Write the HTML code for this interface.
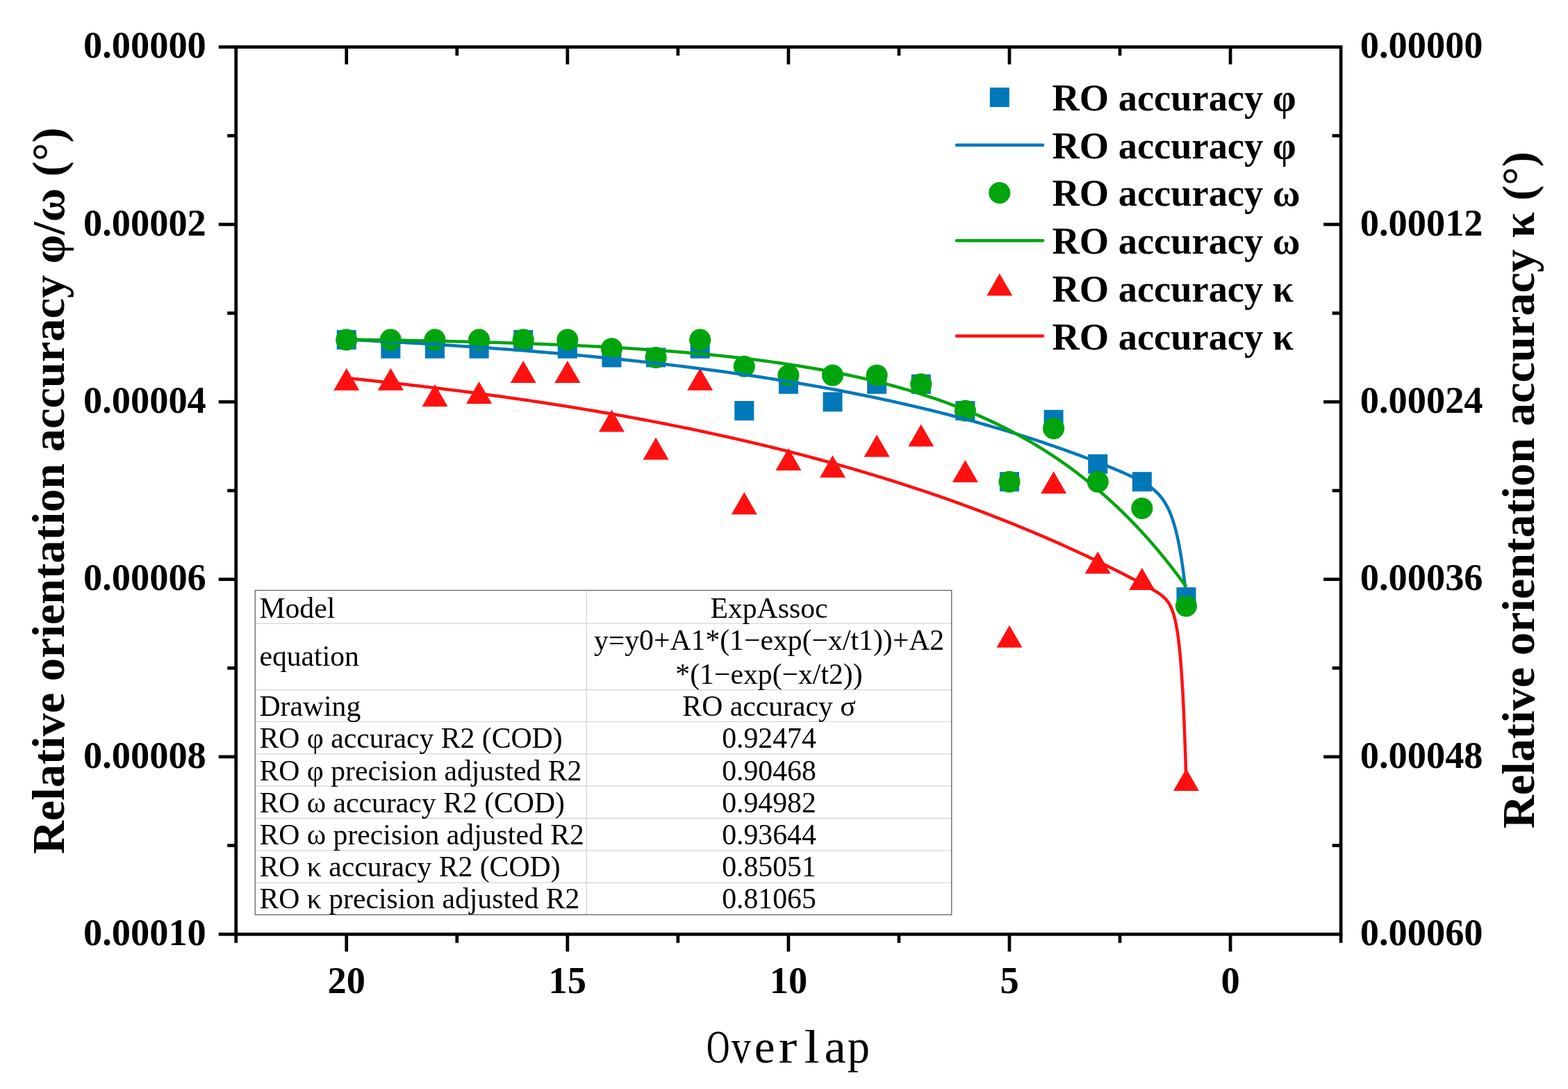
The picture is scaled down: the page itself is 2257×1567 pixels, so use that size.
<!DOCTYPE html><html><head><meta charset="utf-8"><title>Relative orientation accuracy vs Overlap</title><style>html,body{margin:0;padding:0;background:#fff;overflow:hidden;}svg{display:block}</style></head><body>
<svg width="2257" height="1567" viewBox="0 0 2257 1567">
<rect x="0" y="0" width="2257" height="1567" fill="#fff"/>
<g>
<line x1="367.2" y1="897.2" x2="1369.7" y2="897.2" stroke="#d4d4d4" stroke-width="1.3"/>
<line x1="367.2" y1="992.5" x2="1369.7" y2="992.5" stroke="#d4d4d4" stroke-width="1.3"/>
<line x1="367.2" y1="1038.4" x2="1369.7" y2="1038.4" stroke="#d4d4d4" stroke-width="1.3"/>
<line x1="367.2" y1="1084.8" x2="1369.7" y2="1084.8" stroke="#d4d4d4" stroke-width="1.3"/>
<line x1="367.2" y1="1131.2" x2="1369.7" y2="1131.2" stroke="#d4d4d4" stroke-width="1.3"/>
<line x1="367.2" y1="1177.5" x2="1369.7" y2="1177.5" stroke="#d4d4d4" stroke-width="1.3"/>
<line x1="367.2" y1="1223.8" x2="1369.7" y2="1223.8" stroke="#d4d4d4" stroke-width="1.3"/>
<line x1="367.2" y1="1270.1" x2="1369.7" y2="1270.1" stroke="#d4d4d4" stroke-width="1.3"/>
<line x1="844.2" y1="849.5" x2="844.2" y2="1316.2" stroke="#d4d4d4" stroke-width="1.3"/>
<rect x="367.2" y="849.5" width="1002.5" height="466.70000000000005" fill="none" stroke="#6a6a6a" stroke-width="1.4"/>
<text x="373.4" y="888.9" font-family="Liberation Serif, Times New Roman, serif" font-size="41.7">Model</text>
<text x="373.4" y="958.0" font-family="Liberation Serif, Times New Roman, serif" font-size="41.7">equation</text>
<text x="373.4" y="1030.0" font-family="Liberation Serif, Times New Roman, serif" font-size="41.7">Drawing</text>
<text x="373.4" y="1076.0" font-family="Liberation Serif, Times New Roman, serif" font-size="41.7">RO φ accuracy R2 (COD)</text>
<text x="373.4" y="1122.5" font-family="Liberation Serif, Times New Roman, serif" font-size="41.7">RO φ precision adjusted R2</text>
<text x="373.4" y="1168.7" font-family="Liberation Serif, Times New Roman, serif" font-size="41.7">RO ω accuracy R2 (COD)</text>
<text x="373.4" y="1214.9" font-family="Liberation Serif, Times New Roman, serif" font-size="41.7">RO ω precision adjusted R2</text>
<text x="373.4" y="1261.2" font-family="Liberation Serif, Times New Roman, serif" font-size="41.7">RO κ accuracy R2 (COD)</text>
<text x="373.4" y="1307.4" font-family="Liberation Serif, Times New Roman, serif" font-size="41.7">RO κ precision adjusted R2</text>
<text x="1107.0" y="888.8" text-anchor="middle" font-family="Liberation Serif, Times New Roman, serif" font-size="41.7">ExpAssoc</text>
<text x="1107.0" y="934.7" text-anchor="middle" font-family="Liberation Serif, Times New Roman, serif" font-size="41.7">y=y0+A1*(1−exp(−x/t1))+A2</text>
<text x="1107.0" y="983.6" text-anchor="middle" font-family="Liberation Serif, Times New Roman, serif" font-size="41.7">*(1−exp(−x/t2))</text>
<text x="1107.0" y="1030.0" text-anchor="middle" font-family="Liberation Serif, Times New Roman, serif" font-size="41.7">RO accuracy σ</text>
<text x="1107.0" y="1076.0" text-anchor="middle" font-family="Liberation Serif, Times New Roman, serif" font-size="41.7">0.92474</text>
<text x="1107.0" y="1122.5" text-anchor="middle" font-family="Liberation Serif, Times New Roman, serif" font-size="41.7">0.90468</text>
<text x="1107.0" y="1168.7" text-anchor="middle" font-family="Liberation Serif, Times New Roman, serif" font-size="41.7">0.94982</text>
<text x="1107.0" y="1214.9" text-anchor="middle" font-family="Liberation Serif, Times New Roman, serif" font-size="41.7">0.93644</text>
<text x="1107.0" y="1261.2" text-anchor="middle" font-family="Liberation Serif, Times New Roman, serif" font-size="41.7">0.85051</text>
<text x="1107.0" y="1307.4" text-anchor="middle" font-family="Liberation Serif, Times New Roman, serif" font-size="41.7">0.81065</text>
</g>
<rect x="484.74" y="474.91" width="28.0" height="28.0" fill="#0078BA"/>
<rect x="548.36" y="487.68" width="28.0" height="28.0" fill="#0078BA"/>
<rect x="611.97" y="487.68" width="28.0" height="28.0" fill="#0078BA"/>
<rect x="675.59" y="487.68" width="28.0" height="28.0" fill="#0078BA"/>
<rect x="739.20" y="474.91" width="28.0" height="28.0" fill="#0078BA"/>
<rect x="802.82" y="487.68" width="28.0" height="28.0" fill="#0078BA"/>
<rect x="866.44" y="500.44" width="28.0" height="28.0" fill="#0078BA"/>
<rect x="930.05" y="500.44" width="28.0" height="28.0" fill="#0078BA"/>
<rect x="993.67" y="487.68" width="28.0" height="28.0" fill="#0078BA"/>
<rect x="1057.28" y="577.05" width="28.0" height="28.0" fill="#0078BA"/>
<rect x="1120.90" y="538.75" width="28.0" height="28.0" fill="#0078BA"/>
<rect x="1184.52" y="564.28" width="28.0" height="28.0" fill="#0078BA"/>
<rect x="1248.13" y="538.75" width="28.0" height="28.0" fill="#0078BA"/>
<rect x="1311.75" y="538.75" width="28.0" height="28.0" fill="#0078BA"/>
<rect x="1375.36" y="577.05" width="28.0" height="28.0" fill="#0078BA"/>
<rect x="1438.98" y="679.18" width="28.0" height="28.0" fill="#0078BA"/>
<rect x="1502.60" y="589.81" width="28.0" height="28.0" fill="#0078BA"/>
<rect x="1566.21" y="653.65" width="28.0" height="28.0" fill="#0078BA"/>
<rect x="1629.83" y="679.18" width="28.0" height="28.0" fill="#0078BA"/>
<rect x="1693.44" y="845.15" width="28.0" height="28.0" fill="#0078BA"/>
<circle cx="498.74" cy="488.91" r="15.55" fill="#00A50E"/>
<circle cx="562.36" cy="488.91" r="15.55" fill="#00A50E"/>
<circle cx="625.97" cy="488.91" r="15.55" fill="#00A50E"/>
<circle cx="689.59" cy="488.91" r="15.55" fill="#00A50E"/>
<circle cx="753.20" cy="488.91" r="15.55" fill="#00A50E"/>
<circle cx="816.82" cy="488.91" r="15.55" fill="#00A50E"/>
<circle cx="880.44" cy="501.68" r="15.55" fill="#00A50E"/>
<circle cx="944.05" cy="514.44" r="15.55" fill="#00A50E"/>
<circle cx="1007.67" cy="488.91" r="15.55" fill="#00A50E"/>
<circle cx="1071.28" cy="527.21" r="15.55" fill="#00A50E"/>
<circle cx="1134.90" cy="539.98" r="15.55" fill="#00A50E"/>
<circle cx="1198.52" cy="539.98" r="15.55" fill="#00A50E"/>
<circle cx="1262.13" cy="539.98" r="15.55" fill="#00A50E"/>
<circle cx="1325.75" cy="552.75" r="15.55" fill="#00A50E"/>
<circle cx="1389.36" cy="591.05" r="15.55" fill="#00A50E"/>
<circle cx="1452.98" cy="693.18" r="15.55" fill="#00A50E"/>
<circle cx="1516.60" cy="616.58" r="15.55" fill="#00A50E"/>
<circle cx="1580.21" cy="693.18" r="15.55" fill="#00A50E"/>
<circle cx="1643.83" cy="731.48" r="15.55" fill="#00A50E"/>
<circle cx="1707.44" cy="871.92" r="15.55" fill="#00A50E"/>
<polygon points="498.74,529.80 480.24,561.80 517.24,561.80" fill="#FF1010"/>
<polygon points="562.36,529.80 543.86,561.80 580.86,561.80" fill="#FF1010"/>
<polygon points="625.97,553.00 607.47,585.00 644.47,585.00" fill="#FF1010"/>
<polygon points="689.59,549.00 671.09,581.00 708.09,581.00" fill="#FF1010"/>
<polygon points="753.20,519.00 734.70,551.00 771.70,551.00" fill="#FF1010"/>
<polygon points="816.82,519.00 798.32,551.00 835.32,551.00" fill="#FF1010"/>
<polygon points="880.44,589.40 861.94,621.40 898.94,621.40" fill="#FF1010"/>
<polygon points="944.05,629.50 925.55,661.50 962.55,661.50" fill="#FF1010"/>
<polygon points="1007.67,529.80 989.17,561.80 1026.17,561.80" fill="#FF1010"/>
<polygon points="1071.28,708.20 1052.78,740.20 1089.78,740.20" fill="#FF1010"/>
<polygon points="1134.90,644.90 1116.40,676.90 1153.40,676.90" fill="#FF1010"/>
<polygon points="1198.52,655.20 1180.02,687.20 1217.02,687.20" fill="#FF1010"/>
<polygon points="1262.13,625.60 1243.63,657.60 1280.63,657.60" fill="#FF1010"/>
<polygon points="1325.75,610.40 1307.25,642.40 1344.25,642.40" fill="#FF1010"/>
<polygon points="1389.36,662.00 1370.86,694.00 1407.86,694.00" fill="#FF1010"/>
<polygon points="1452.98,899.80 1434.48,931.80 1471.48,931.80" fill="#FF1010"/>
<polygon points="1516.60,678.30 1498.10,710.30 1535.10,710.30" fill="#FF1010"/>
<polygon points="1580.21,793.50 1561.71,825.50 1598.71,825.50" fill="#FF1010"/>
<polygon points="1643.83,817.00 1625.33,849.00 1662.33,849.00" fill="#FF1010"/>
<polygon points="1707.44,1106.00 1688.94,1138.00 1725.94,1138.00" fill="#FF1010"/>
<path d="M1707.44,859.15 L1707.12,856.00 L1706.80,852.91 L1706.48,849.89 L1706.17,846.93 L1705.85,844.03 L1705.53,841.19 L1705.21,838.40 L1704.89,835.68 L1704.57,833.01 L1704.25,830.39 L1703.93,827.83 L1703.61,825.32 L1703.29,822.86 L1702.97,820.46 L1702.65,818.10 L1702.33,815.79 L1702.01,813.52 L1701.69,811.30 L1701.37,809.13 L1701.05,807.00 L1700.73,804.91 L1700.41,802.87 L1700.09,800.86 L1699.77,798.90 L1699.45,796.97 L1699.13,795.09 L1698.81,793.24 L1698.49,791.43 L1698.17,789.65 L1697.85,787.91 L1697.53,786.21 L1697.21,784.53 L1696.89,782.89 L1696.57,781.29 L1696.26,779.71 L1695.94,778.17 L1695.62,776.65 L1695.30,775.17 L1694.98,773.71 L1694.66,772.29 L1694.34,770.89 L1694.02,769.51 L1693.70,768.17 L1693.38,766.85 L1693.06,765.55 L1692.74,764.28 L1692.42,763.04 L1692.10,761.82 L1691.78,760.62 L1691.46,759.44 L1691.14,758.29 L1690.82,757.16 L1690.50,756.05 L1690.18,754.96 L1689.86,753.89 L1689.54,752.84 L1689.22,751.81 L1688.90,750.80 L1688.58,749.81 L1688.26,748.84 L1687.94,747.88 L1687.62,746.94 L1687.30,746.02 L1686.98,745.12 L1686.66,744.23 L1686.35,743.36 L1686.03,742.50 L1685.71,741.66 L1685.39,740.84 L1685.07,740.03 L1684.75,739.23 L1684.43,738.45 L1684.11,737.68 L1683.79,736.92 L1683.47,736.18 L1683.15,735.45 L1682.83,734.74 L1682.51,734.03 L1682.19,733.34 L1681.87,732.66 L1681.55,731.99 L1681.23,731.33 L1680.91,730.69 L1680.59,730.05 L1680.27,729.43 L1679.95,728.81 L1679.63,728.21 L1679.31,727.62 L1678.99,727.03 L1678.67,726.46 L1678.35,725.89 L1678.03,725.33 L1677.71,724.79 L1677.39,724.25 L1677.07,723.72 L1676.75,723.19 L1676.44,722.68 L1676.12,722.18 L1675.80,721.68 L1675.48,721.19 L1675.16,720.70 L1674.84,720.23 L1674.52,719.76 L1674.20,719.30 L1673.88,718.84 L1673.56,718.40 L1673.24,717.96 L1672.92,717.52 L1672.60,717.09 L1672.28,716.67 L1671.96,716.25 L1671.64,715.84 L1671.32,715.44 L1671.00,715.04 L1670.68,714.65 L1670.36,714.26 L1670.04,713.88 L1669.72,713.50 L1669.40,713.13 L1669.08,712.76 L1668.76,712.40 L1668.44,712.04 L1668.12,711.69 L1667.80,711.34 L1667.48,710.99 L1667.16,710.65 L1666.84,710.32 L1666.53,709.99 L1666.21,709.66 L1665.89,709.34 L1665.57,709.02 L1665.25,708.70 L1664.93,708.39 L1664.61,708.08 L1664.29,707.78 L1663.97,707.48 L1663.65,707.18 L1663.33,706.88 L1663.01,706.59 L1662.69,706.31 L1662.37,706.02 L1662.05,705.74 L1661.73,705.46 L1661.41,705.19 L1661.09,704.92 L1660.77,704.65 L1660.45,704.38 L1660.13,704.12 L1659.81,703.85 L1659.49,703.60 L1659.17,703.34 L1658.85,703.09 L1658.53,702.83 L1658.21,702.59 L1657.89,702.34 L1657.57,702.10 L1657.25,701.85 L1656.93,701.61 L1656.62,701.38 L1656.30,701.14 L1655.98,700.91 L1655.66,700.68 L1655.34,700.45 L1655.02,700.22 L1654.70,699.99 L1654.38,699.77 L1654.06,699.55 L1653.74,699.33 L1653.42,699.11 L1653.10,698.90 L1652.78,698.68 L1652.46,698.47 L1652.14,698.26 L1651.82,698.05 L1651.50,697.84 L1651.18,697.63 L1650.86,697.43 L1650.54,697.22 L1650.22,697.02 L1649.90,696.82 L1649.58,696.62 L1649.26,696.42 L1648.94,696.22 L1648.62,696.03 L1648.30,695.83 L1647.98,695.64 L1647.66,695.45 L1647.34,695.26 L1647.02,695.07 L1646.71,694.88 L1646.39,694.69 L1646.07,694.50 L1645.75,694.32 L1645.43,694.13 L1645.11,693.95 L1644.79,693.77 L1644.47,693.59 L1644.15,693.41 L1643.83,693.23 L1640.00,691.15 L1636.17,689.17 L1632.34,687.28 L1628.51,685.46 L1624.68,683.69 L1620.85,681.96 L1617.02,680.27 L1613.19,678.62 L1609.36,676.99 L1605.53,675.38 L1601.70,673.80 L1597.87,672.23 L1594.04,670.68 L1590.21,669.14 L1586.38,667.62 L1582.55,666.11 L1578.72,664.61 L1574.89,663.13 L1571.06,661.66 L1567.23,660.20 L1563.40,658.75 L1559.57,657.31 L1555.74,655.88 L1551.91,654.47 L1548.08,653.06 L1544.26,651.67 L1540.43,650.29 L1536.60,648.91 L1532.77,647.55 L1528.94,646.19 L1525.11,644.85 L1521.28,643.52 L1517.45,642.19 L1513.62,640.88 L1509.79,639.57 L1505.96,638.28 L1502.13,636.99 L1498.30,635.72 L1494.47,634.45 L1490.64,633.19 L1486.81,631.95 L1482.98,630.71 L1479.15,629.48 L1475.32,628.26 L1471.49,627.05 L1467.66,625.84 L1463.83,624.65 L1460.00,623.46 L1456.17,622.29 L1452.34,621.12 L1448.51,619.96 L1444.68,618.81 L1440.85,617.67 L1437.02,616.53 L1433.19,615.41 L1429.36,614.29 L1425.53,613.18 L1421.70,612.08 L1417.87,610.99 L1414.04,609.90 L1410.21,608.83 L1406.39,607.76 L1402.56,606.70 L1398.73,605.64 L1394.90,604.60 L1391.07,603.56 L1387.24,602.53 L1383.41,601.51 L1379.58,600.49 L1375.75,599.49 L1371.92,598.49 L1368.09,597.49 L1364.26,596.51 L1360.43,595.53 L1356.60,594.56 L1352.77,593.59 L1348.94,592.64 L1345.11,591.69 L1341.28,590.75 L1337.45,589.81 L1333.62,588.88 L1329.79,587.96 L1325.96,587.04 L1322.13,586.13 L1318.30,585.23 L1314.47,584.34 L1310.64,583.45 L1306.81,582.57 L1302.98,581.69 L1299.15,580.82 L1295.32,579.96 L1291.49,579.10 L1287.66,578.25 L1283.83,577.41 L1280.00,576.57 L1276.17,575.74 L1272.34,574.91 L1268.51,574.09 L1264.69,573.28 L1260.86,572.47 L1257.03,571.67 L1253.20,570.88 L1249.37,570.09 L1245.54,569.30 L1241.71,568.52 L1237.88,567.75 L1234.05,566.99 L1230.22,566.22 L1226.39,565.47 L1222.56,564.72 L1218.73,563.97 L1214.90,563.24 L1211.07,562.50 L1207.24,561.77 L1203.41,561.05 L1199.58,560.33 L1195.75,559.62 L1191.92,558.91 L1188.09,558.21 L1184.26,557.52 L1180.43,556.82 L1176.60,556.14 L1172.77,555.46 L1168.94,554.78 L1165.11,554.11 L1161.28,553.44 L1157.45,552.78 L1153.62,552.12 L1149.79,551.47 L1145.96,550.83 L1142.13,550.18 L1138.30,549.55 L1134.47,548.91 L1130.64,548.28 L1126.82,547.66 L1122.99,547.04 L1119.16,546.43 L1115.33,545.82 L1111.50,545.21 L1107.67,544.61 L1103.84,544.01 L1100.01,543.42 L1096.18,542.83 L1092.35,542.25 L1088.52,541.67 L1084.69,541.10 L1080.86,540.53 L1077.03,539.96 L1073.20,539.40 L1069.37,538.84 L1065.54,538.28 L1061.71,537.73 L1057.88,537.19 L1054.05,536.65 L1050.22,536.11 L1046.39,535.57 L1042.56,535.04 L1038.73,534.52 L1034.90,534.00 L1031.07,533.48 L1027.24,532.96 L1023.41,532.45 L1019.58,531.94 L1015.75,531.44 L1011.92,530.94 L1008.09,530.44 L1004.26,529.95 L1000.43,529.46 L996.60,528.98 L992.77,528.50 L988.94,528.02 L985.12,527.54 L981.29,527.07 L977.46,526.61 L973.63,526.14 L969.80,525.68 L965.97,525.22 L962.14,524.77 L958.31,524.32 L954.48,523.87 L950.65,523.43 L946.82,522.99 L942.99,522.55 L939.16,522.11 L935.33,521.68 L931.50,521.26 L927.67,520.83 L923.84,520.41 L920.01,519.99 L916.18,519.57 L912.35,519.16 L908.52,518.75 L904.69,518.35 L900.86,517.94 L897.03,517.54 L893.20,517.14 L889.37,516.75 L885.54,516.36 L881.71,515.97 L877.88,515.58 L874.05,515.20 L870.22,514.82 L866.39,514.44 L862.56,514.07 L858.73,513.70 L854.90,513.33 L851.07,512.96 L847.25,512.60 L843.42,512.23 L839.59,511.88 L835.76,511.52 L831.93,511.17 L828.10,510.82 L824.27,510.47 L820.44,510.12 L816.61,509.78 L812.78,509.44 L808.95,509.10 L805.12,508.77 L801.29,508.43 L797.46,508.10 L793.63,507.77 L789.80,507.45 L785.97,507.13 L782.14,506.80 L778.31,506.49 L774.48,506.17 L770.65,505.86 L766.82,505.54 L762.99,505.23 L759.16,504.93 L755.33,504.62 L751.50,504.32 L747.67,504.02 L743.84,503.72 L740.01,503.43 L736.18,503.13 L732.35,502.84 L728.52,502.55 L724.69,502.26 L720.86,501.98 L717.03,501.70 L713.20,501.41 L709.37,501.14 L705.55,500.86 L701.72,500.58 L697.89,500.31 L694.06,500.04 L690.23,499.77 L686.40,499.50 L682.57,499.24 L678.74,498.98 L674.91,498.72 L671.08,498.46 L667.25,498.20 L663.42,497.94 L659.59,497.69 L655.76,497.44 L651.93,497.19 L648.10,496.94 L644.27,496.69 L640.44,496.45 L636.61,496.21 L632.78,495.97 L628.95,495.73 L625.12,495.49 L621.29,495.26 L617.46,495.02 L613.63,494.79 L609.80,494.56 L605.97,494.33 L602.14,494.10 L598.31,493.88 L594.48,493.66 L590.65,493.43 L586.82,493.21 L582.99,493.00 L579.16,492.78 L575.33,492.56 L571.50,492.35 L567.68,492.14 L563.85,491.93 L560.02,491.72 L556.19,491.51 L552.36,491.30 L548.53,491.10 L544.70,490.90 L540.87,490.69 L537.04,490.49 L533.21,490.29 L529.38,490.10 L525.55,489.90 L521.72,489.71 L517.89,489.51 L514.06,489.32 L510.23,489.13 L506.40,488.94 L502.57,488.76 L498.74,488.57" fill="none" stroke="#0078BA" stroke-width="4.5" stroke-linejoin="round"/>
<path d="M1707.44,844.36 L1707.12,843.92 L1706.80,843.48 L1706.48,843.03 L1706.17,842.59 L1705.85,842.15 L1705.53,841.70 L1705.21,841.26 L1704.89,840.82 L1704.57,840.38 L1704.25,839.94 L1703.93,839.50 L1703.61,839.06 L1703.29,838.62 L1702.97,838.19 L1702.65,837.75 L1702.33,837.31 L1702.01,836.88 L1701.69,836.44 L1701.37,836.00 L1701.05,835.57 L1700.73,835.14 L1700.41,834.70 L1700.09,834.27 L1699.77,833.84 L1699.45,833.41 L1699.13,832.97 L1698.81,832.54 L1698.49,832.11 L1698.17,831.68 L1697.85,831.25 L1697.53,830.83 L1697.21,830.40 L1696.89,829.97 L1696.57,829.54 L1696.26,829.12 L1695.94,828.69 L1695.62,828.26 L1695.30,827.84 L1694.98,827.41 L1694.66,826.99 L1694.34,826.57 L1694.02,826.14 L1693.70,825.72 L1693.38,825.30 L1693.06,824.88 L1692.74,824.46 L1692.42,824.04 L1692.10,823.62 L1691.78,823.20 L1691.46,822.78 L1691.14,822.36 L1690.82,821.94 L1690.50,821.53 L1690.18,821.11 L1689.86,820.69 L1689.54,820.28 L1689.22,819.86 L1688.90,819.45 L1688.58,819.04 L1688.26,818.62 L1687.94,818.21 L1687.62,817.80 L1687.30,817.38 L1686.98,816.97 L1686.66,816.56 L1686.35,816.15 L1686.03,815.74 L1685.71,815.33 L1685.39,814.92 L1685.07,814.51 L1684.75,814.11 L1684.43,813.70 L1684.11,813.29 L1683.79,812.89 L1683.47,812.48 L1683.15,812.07 L1682.83,811.67 L1682.51,811.26 L1682.19,810.86 L1681.87,810.46 L1681.55,810.05 L1681.23,809.65 L1680.91,809.25 L1680.59,808.85 L1680.27,808.45 L1679.95,808.05 L1679.63,807.65 L1679.31,807.25 L1678.99,806.85 L1678.67,806.45 L1678.35,806.05 L1678.03,805.66 L1677.71,805.26 L1677.39,804.86 L1677.07,804.47 L1676.75,804.07 L1676.44,803.68 L1676.12,803.28 L1675.80,802.89 L1675.48,802.49 L1675.16,802.10 L1674.84,801.71 L1674.52,801.32 L1674.20,800.92 L1673.88,800.53 L1673.56,800.14 L1673.24,799.75 L1672.92,799.36 L1672.60,798.97 L1672.28,798.58 L1671.96,798.20 L1671.64,797.81 L1671.32,797.42 L1671.00,797.03 L1670.68,796.65 L1670.36,796.26 L1670.04,795.88 L1669.72,795.49 L1669.40,795.11 L1669.08,794.72 L1668.76,794.34 L1668.44,793.96 L1668.12,793.58 L1667.80,793.19 L1667.48,792.81 L1667.16,792.43 L1666.84,792.05 L1666.53,791.67 L1666.21,791.29 L1665.89,790.91 L1665.57,790.53 L1665.25,790.15 L1664.93,789.78 L1664.61,789.40 L1664.29,789.02 L1663.97,788.65 L1663.65,788.27 L1663.33,787.89 L1663.01,787.52 L1662.69,787.15 L1662.37,786.77 L1662.05,786.40 L1661.73,786.02 L1661.41,785.65 L1661.09,785.28 L1660.77,784.91 L1660.45,784.54 L1660.13,784.17 L1659.81,783.80 L1659.49,783.43 L1659.17,783.06 L1658.85,782.69 L1658.53,782.32 L1658.21,781.95 L1657.89,781.58 L1657.57,781.22 L1657.25,780.85 L1656.93,780.48 L1656.62,780.12 L1656.30,779.75 L1655.98,779.39 L1655.66,779.02 L1655.34,778.66 L1655.02,778.30 L1654.70,777.93 L1654.38,777.57 L1654.06,777.21 L1653.74,776.85 L1653.42,776.48 L1653.10,776.12 L1652.78,775.76 L1652.46,775.40 L1652.14,775.04 L1651.82,774.68 L1651.50,774.33 L1651.18,773.97 L1650.86,773.61 L1650.54,773.25 L1650.22,772.90 L1649.90,772.54 L1649.58,772.18 L1649.26,771.83 L1648.94,771.47 L1648.62,771.12 L1648.30,770.76 L1647.98,770.41 L1647.66,770.06 L1647.34,769.70 L1647.02,769.35 L1646.71,769.00 L1646.39,768.65 L1646.07,768.30 L1645.75,767.95 L1645.43,767.60 L1645.11,767.25 L1644.79,766.90 L1644.47,766.55 L1644.15,766.20 L1643.83,765.85 L1640.00,761.72 L1636.17,757.64 L1632.34,753.62 L1628.51,749.67 L1624.68,745.77 L1620.85,741.93 L1617.02,738.14 L1613.19,734.42 L1609.36,730.74 L1605.53,727.12 L1601.70,723.56 L1597.87,720.05 L1594.04,716.58 L1590.21,713.17 L1586.38,709.81 L1582.55,706.50 L1578.72,703.24 L1574.89,700.03 L1571.06,696.86 L1567.23,693.74 L1563.40,690.67 L1559.57,687.64 L1555.74,684.66 L1551.91,681.72 L1548.08,678.82 L1544.26,675.97 L1540.43,673.16 L1536.60,670.39 L1532.77,667.66 L1528.94,664.97 L1525.11,662.32 L1521.28,659.71 L1517.45,657.14 L1513.62,654.60 L1509.79,652.11 L1505.96,649.65 L1502.13,647.22 L1498.30,644.83 L1494.47,642.48 L1490.64,640.16 L1486.81,637.88 L1482.98,635.63 L1479.15,633.41 L1475.32,631.23 L1471.49,629.08 L1467.66,626.96 L1463.83,624.87 L1460.00,622.81 L1456.17,620.78 L1452.34,618.78 L1448.51,616.82 L1444.68,614.88 L1440.85,612.97 L1437.02,611.08 L1433.19,609.23 L1429.36,607.40 L1425.53,605.60 L1421.70,603.83 L1417.87,602.08 L1414.04,600.36 L1410.21,598.66 L1406.39,596.99 L1402.56,595.34 L1398.73,593.72 L1394.90,592.12 L1391.07,590.54 L1387.24,588.99 L1383.41,587.46 L1379.58,585.95 L1375.75,584.47 L1371.92,583.01 L1368.09,581.57 L1364.26,580.15 L1360.43,578.75 L1356.60,577.37 L1352.77,576.01 L1348.94,574.67 L1345.11,573.36 L1341.28,572.06 L1337.45,570.78 L1333.62,569.52 L1329.79,568.27 L1325.96,567.05 L1322.13,565.84 L1318.30,564.66 L1314.47,563.49 L1310.64,562.33 L1306.81,561.20 L1302.98,560.08 L1299.15,558.97 L1295.32,557.89 L1291.49,556.82 L1287.66,555.76 L1283.83,554.72 L1280.00,553.70 L1276.17,552.69 L1272.34,551.70 L1268.51,550.72 L1264.69,549.75 L1260.86,548.80 L1257.03,547.86 L1253.20,546.94 L1249.37,546.03 L1245.54,545.14 L1241.71,544.25 L1237.88,543.38 L1234.05,542.53 L1230.22,541.68 L1226.39,540.85 L1222.56,540.03 L1218.73,539.22 L1214.90,538.43 L1211.07,537.64 L1207.24,536.87 L1203.41,536.11 L1199.58,535.36 L1195.75,534.62 L1191.92,533.89 L1188.09,533.18 L1184.26,532.47 L1180.43,531.77 L1176.60,531.09 L1172.77,530.41 L1168.94,529.75 L1165.11,529.09 L1161.28,528.45 L1157.45,527.81 L1153.62,527.18 L1149.79,526.56 L1145.96,525.95 L1142.13,525.35 L1138.30,524.76 L1134.47,524.18 L1130.64,523.61 L1126.82,523.04 L1122.99,522.49 L1119.16,521.94 L1115.33,521.40 L1111.50,520.86 L1107.67,520.34 L1103.84,519.82 L1100.01,519.31 L1096.18,518.81 L1092.35,518.31 L1088.52,517.83 L1084.69,517.35 L1080.86,516.87 L1077.03,516.41 L1073.20,515.95 L1069.37,515.50 L1065.54,515.05 L1061.71,514.61 L1057.88,514.18 L1054.05,513.75 L1050.22,513.33 L1046.39,512.92 L1042.56,512.51 L1038.73,512.11 L1034.90,511.71 L1031.07,511.32 L1027.24,510.94 L1023.41,510.56 L1019.58,510.19 L1015.75,509.82 L1011.92,509.46 L1008.09,509.10 L1004.26,508.75 L1000.43,508.40 L996.60,508.06 L992.77,507.73 L988.94,507.39 L985.12,507.07 L981.29,506.75 L977.46,506.43 L973.63,506.12 L969.80,505.81 L965.97,505.51 L962.14,505.21 L958.31,504.91 L954.48,504.63 L950.65,504.34 L946.82,504.06 L942.99,503.78 L939.16,503.51 L935.33,503.24 L931.50,502.97 L927.67,502.71 L923.84,502.46 L920.01,502.20 L916.18,501.95 L912.35,501.71 L908.52,501.46 L904.69,501.22 L900.86,500.99 L897.03,500.76 L893.20,500.53 L889.37,500.30 L885.54,500.08 L881.71,499.86 L877.88,499.65 L874.05,499.44 L870.22,499.23 L866.39,499.02 L862.56,498.82 L858.73,498.62 L854.90,498.42 L851.07,498.23 L847.25,498.04 L843.42,497.85 L839.59,497.66 L835.76,497.48 L831.93,497.30 L828.10,497.12 L824.27,496.95 L820.44,496.77 L816.61,496.61 L812.78,496.44 L808.95,496.27 L805.12,496.11 L801.29,495.95 L797.46,495.79 L793.63,495.64 L789.80,495.48 L785.97,495.33 L782.14,495.19 L778.31,495.04 L774.48,494.89 L770.65,494.75 L766.82,494.61 L762.99,494.48 L759.16,494.34 L755.33,494.21 L751.50,494.07 L747.67,493.94 L743.84,493.82 L740.01,493.69 L736.18,493.57 L732.35,493.44 L728.52,493.32 L724.69,493.20 L720.86,493.09 L717.03,492.97 L713.20,492.86 L709.37,492.75 L705.55,492.63 L701.72,492.53 L697.89,492.42 L694.06,492.31 L690.23,492.21 L686.40,492.11 L682.57,492.01 L678.74,491.91 L674.91,491.81 L671.08,491.71 L667.25,491.62 L663.42,491.52 L659.59,491.43 L655.76,491.34 L651.93,491.25 L648.10,491.16 L644.27,491.07 L640.44,490.99 L636.61,490.90 L632.78,490.82 L628.95,490.74 L625.12,490.66 L621.29,490.58 L617.46,490.50 L613.63,490.42 L609.80,490.35 L605.97,490.27 L602.14,490.20 L598.31,490.13 L594.48,490.05 L590.65,489.98 L586.82,489.91 L582.99,489.84 L579.16,489.78 L575.33,489.71 L571.50,489.64 L567.68,489.58 L563.85,489.52 L560.02,489.45 L556.19,489.39 L552.36,489.33 L548.53,489.27 L544.70,489.21 L540.87,489.15 L537.04,489.10 L533.21,489.04 L529.38,488.98 L525.55,488.93 L521.72,488.87 L517.89,488.82 L514.06,488.77 L510.23,488.72 L506.40,488.67 L502.57,488.62 L498.74,488.57" fill="none" stroke="#00A50E" stroke-width="4.5" stroke-linejoin="round"/>
<path d="M1707.44,1127.31 L1707.12,1115.93 L1706.80,1105.05 L1706.48,1094.64 L1706.17,1084.68 L1705.85,1075.16 L1705.53,1066.05 L1705.21,1057.34 L1704.89,1049.01 L1704.57,1041.03 L1704.25,1033.41 L1703.93,1026.11 L1703.61,1019.13 L1703.29,1012.46 L1702.97,1006.07 L1702.65,999.95 L1702.33,994.10 L1702.01,988.50 L1701.69,983.14 L1701.37,978.01 L1701.05,973.10 L1700.73,968.40 L1700.41,963.90 L1700.09,959.60 L1699.77,955.47 L1699.45,951.52 L1699.13,947.74 L1698.81,944.12 L1698.49,940.65 L1698.17,937.32 L1697.85,934.14 L1697.53,931.09 L1697.21,928.16 L1696.89,925.36 L1696.57,922.68 L1696.26,920.10 L1695.94,917.64 L1695.62,915.27 L1695.30,913.00 L1694.98,910.82 L1694.66,908.73 L1694.34,906.73 L1694.02,904.81 L1693.70,902.96 L1693.38,901.19 L1693.06,899.49 L1692.74,897.86 L1692.42,896.29 L1692.10,894.78 L1691.78,893.33 L1691.46,891.94 L1691.14,890.60 L1690.82,889.32 L1690.50,888.08 L1690.18,886.89 L1689.86,885.75 L1689.54,884.64 L1689.22,883.58 L1688.90,882.56 L1688.58,881.57 L1688.26,880.63 L1687.94,879.71 L1687.62,878.83 L1687.30,877.98 L1686.98,877.16 L1686.66,876.37 L1686.35,875.60 L1686.03,874.86 L1685.71,874.15 L1685.39,873.46 L1685.07,872.79 L1684.75,872.14 L1684.43,871.52 L1684.11,870.91 L1683.79,870.33 L1683.47,869.76 L1683.15,869.21 L1682.83,868.68 L1682.51,868.16 L1682.19,867.65 L1681.87,867.17 L1681.55,866.69 L1681.23,866.23 L1680.91,865.78 L1680.59,865.34 L1680.27,864.92 L1679.95,864.51 L1679.63,864.10 L1679.31,863.71 L1678.99,863.33 L1678.67,862.95 L1678.35,862.59 L1678.03,862.23 L1677.71,861.88 L1677.39,861.54 L1677.07,861.20 L1676.75,860.88 L1676.44,860.56 L1676.12,860.24 L1675.80,859.94 L1675.48,859.63 L1675.16,859.34 L1674.84,859.05 L1674.52,858.76 L1674.20,858.48 L1673.88,858.21 L1673.56,857.93 L1673.24,857.67 L1672.92,857.41 L1672.60,857.15 L1672.28,856.89 L1671.96,856.64 L1671.64,856.39 L1671.32,856.15 L1671.00,855.90 L1670.68,855.67 L1670.36,855.43 L1670.04,855.20 L1669.72,854.97 L1669.40,854.74 L1669.08,854.51 L1668.76,854.29 L1668.44,854.07 L1668.12,853.85 L1667.80,853.64 L1667.48,853.42 L1667.16,853.21 L1666.84,853.00 L1666.53,852.79 L1666.21,852.58 L1665.89,852.37 L1665.57,852.17 L1665.25,851.97 L1664.93,851.76 L1664.61,851.56 L1664.29,851.36 L1663.97,851.17 L1663.65,850.97 L1663.33,850.77 L1663.01,850.58 L1662.69,850.39 L1662.37,850.19 L1662.05,850.00 L1661.73,849.81 L1661.41,849.62 L1661.09,849.43 L1660.77,849.24 L1660.45,849.06 L1660.13,848.87 L1659.81,848.68 L1659.49,848.50 L1659.17,848.31 L1658.85,848.13 L1658.53,847.94 L1658.21,847.76 L1657.89,847.58 L1657.57,847.40 L1657.25,847.22 L1656.93,847.04 L1656.62,846.86 L1656.30,846.68 L1655.98,846.50 L1655.66,846.32 L1655.34,846.14 L1655.02,845.96 L1654.70,845.78 L1654.38,845.61 L1654.06,845.43 L1653.74,845.25 L1653.42,845.07 L1653.10,844.90 L1652.78,844.72 L1652.46,844.55 L1652.14,844.37 L1651.82,844.20 L1651.50,844.02 L1651.18,843.85 L1650.86,843.67 L1650.54,843.50 L1650.22,843.33 L1649.90,843.15 L1649.58,842.98 L1649.26,842.81 L1648.94,842.63 L1648.62,842.46 L1648.30,842.29 L1647.98,842.12 L1647.66,841.95 L1647.34,841.77 L1647.02,841.60 L1646.71,841.43 L1646.39,841.26 L1646.07,841.09 L1645.75,840.92 L1645.43,840.75 L1645.11,840.58 L1644.79,840.41 L1644.47,840.24 L1644.15,840.07 L1643.83,839.90 L1640.00,837.87 L1636.17,835.86 L1632.34,833.86 L1628.51,831.88 L1624.68,829.91 L1620.85,827.95 L1617.02,826.00 L1613.19,824.06 L1609.36,822.13 L1605.53,820.22 L1601.70,818.31 L1597.87,816.42 L1594.04,814.53 L1590.21,812.66 L1586.38,810.79 L1582.55,808.94 L1578.72,807.10 L1574.89,805.26 L1571.06,803.44 L1567.23,801.62 L1563.40,799.82 L1559.57,798.03 L1555.74,796.24 L1551.91,794.47 L1548.08,792.70 L1544.26,790.95 L1540.43,789.20 L1536.60,787.47 L1532.77,785.74 L1528.94,784.03 L1525.11,782.32 L1521.28,780.62 L1517.45,778.93 L1513.62,777.26 L1509.79,775.59 L1505.96,773.93 L1502.13,772.27 L1498.30,770.63 L1494.47,769.00 L1490.64,767.37 L1486.81,765.76 L1482.98,764.15 L1479.15,762.55 L1475.32,760.97 L1471.49,759.39 L1467.66,757.81 L1463.83,756.25 L1460.00,754.70 L1456.17,753.15 L1452.34,751.61 L1448.51,750.09 L1444.68,748.56 L1440.85,747.05 L1437.02,745.55 L1433.19,744.05 L1429.36,742.57 L1425.53,741.09 L1421.70,739.62 L1417.87,738.15 L1414.04,736.70 L1410.21,735.25 L1406.39,733.81 L1402.56,732.38 L1398.73,730.96 L1394.90,729.54 L1391.07,728.14 L1387.24,726.74 L1383.41,725.34 L1379.58,723.96 L1375.75,722.58 L1371.92,721.21 L1368.09,719.85 L1364.26,718.50 L1360.43,717.15 L1356.60,715.81 L1352.77,714.48 L1348.94,713.16 L1345.11,711.84 L1341.28,710.53 L1337.45,709.23 L1333.62,707.93 L1329.79,706.64 L1325.96,705.36 L1322.13,704.08 L1318.30,702.82 L1314.47,701.56 L1310.64,700.30 L1306.81,699.06 L1302.98,697.82 L1299.15,696.58 L1295.32,695.36 L1291.49,694.14 L1287.66,692.92 L1283.83,691.72 L1280.00,690.52 L1276.17,689.33 L1272.34,688.14 L1268.51,686.96 L1264.69,685.79 L1260.86,684.62 L1257.03,683.46 L1253.20,682.30 L1249.37,681.16 L1245.54,680.02 L1241.71,678.88 L1237.88,677.75 L1234.05,676.63 L1230.22,675.51 L1226.39,674.40 L1222.56,673.30 L1218.73,672.20 L1214.90,671.11 L1211.07,670.02 L1207.24,668.94 L1203.41,667.87 L1199.58,666.80 L1195.75,665.73 L1191.92,664.68 L1188.09,663.63 L1184.26,662.58 L1180.43,661.54 L1176.60,660.51 L1172.77,659.48 L1168.94,658.46 L1165.11,657.44 L1161.28,656.43 L1157.45,655.42 L1153.62,654.42 L1149.79,653.43 L1145.96,652.44 L1142.13,651.46 L1138.30,650.48 L1134.47,649.51 L1130.64,648.54 L1126.82,647.58 L1122.99,646.62 L1119.16,645.67 L1115.33,644.72 L1111.50,643.78 L1107.67,642.84 L1103.84,641.91 L1100.01,640.99 L1096.18,640.07 L1092.35,639.15 L1088.52,638.24 L1084.69,637.33 L1080.86,636.43 L1077.03,635.54 L1073.20,634.65 L1069.37,633.76 L1065.54,632.88 L1061.71,632.00 L1057.88,631.13 L1054.05,630.27 L1050.22,629.40 L1046.39,628.55 L1042.56,627.69 L1038.73,626.85 L1034.90,626.00 L1031.07,625.17 L1027.24,624.33 L1023.41,623.50 L1019.58,622.68 L1015.75,621.86 L1011.92,621.04 L1008.09,620.23 L1004.26,619.42 L1000.43,618.62 L996.60,617.82 L992.77,617.03 L988.94,616.24 L985.12,615.46 L981.29,614.68 L977.46,613.90 L973.63,613.13 L969.80,612.36 L965.97,611.60 L962.14,610.84 L958.31,610.08 L954.48,609.33 L950.65,608.59 L946.82,607.84 L942.99,607.10 L939.16,606.37 L935.33,605.64 L931.50,604.91 L927.67,604.19 L923.84,603.47 L920.01,602.76 L916.18,602.05 L912.35,601.34 L908.52,600.64 L904.69,599.94 L900.86,599.24 L897.03,598.55 L893.20,597.86 L889.37,597.18 L885.54,596.50 L881.71,595.82 L877.88,595.15 L874.05,594.48 L870.22,593.82 L866.39,593.16 L862.56,592.50 L858.73,591.84 L854.90,591.19 L851.07,590.55 L847.25,589.90 L843.42,589.26 L839.59,588.63 L835.76,587.99 L831.93,587.36 L828.10,586.74 L824.27,586.12 L820.44,585.50 L816.61,584.88 L812.78,584.27 L808.95,583.66 L805.12,583.05 L801.29,582.45 L797.46,581.85 L793.63,581.26 L789.80,580.66 L785.97,580.08 L782.14,579.49 L778.31,578.91 L774.48,578.33 L770.65,577.75 L766.82,577.18 L762.99,576.61 L759.16,576.04 L755.33,575.48 L751.50,574.92 L747.67,574.36 L743.84,573.80 L740.01,573.25 L736.18,572.70 L732.35,572.16 L728.52,571.62 L724.69,571.08 L720.86,570.54 L717.03,570.01 L713.20,569.48 L709.37,568.95 L705.55,568.42 L701.72,567.90 L697.89,567.38 L694.06,566.87 L690.23,566.35 L686.40,565.84 L682.57,565.34 L678.74,564.83 L674.91,564.33 L671.08,563.83 L667.25,563.33 L663.42,562.84 L659.59,562.35 L655.76,561.86 L651.93,561.37 L648.10,560.89 L644.27,560.41 L640.44,559.93 L636.61,559.46 L632.78,558.98 L628.95,558.51 L625.12,558.05 L621.29,557.58 L617.46,557.12 L613.63,556.66 L609.80,556.20 L605.97,555.75 L602.14,555.29 L598.31,554.85 L594.48,554.40 L590.65,553.95 L586.82,553.51 L582.99,553.07 L579.16,552.63 L575.33,552.20 L571.50,551.77 L567.68,551.34 L563.85,550.91 L560.02,550.48 L556.19,550.06 L552.36,549.64 L548.53,549.22 L544.70,548.80 L540.87,548.39 L537.04,547.98 L533.21,547.57 L529.38,547.16 L525.55,546.75 L521.72,546.35 L517.89,545.95 L514.06,545.55 L510.23,545.16 L506.40,544.76 L502.57,544.37 L498.74,543.98" fill="none" stroke="#FF1010" stroke-width="4.5" stroke-linejoin="round"/>
<g stroke="#000" stroke-width="4.7" fill="none">
<rect x="339.7" y="67.6" width="1590.40" height="1276.70" stroke-linejoin="miter"/>
<line x1="314.70" y1="67.60" x2="339.7" y2="67.60"/>
<line x1="327.20" y1="195.27" x2="339.7" y2="195.27"/>
<line x1="1917.60" y1="195.27" x2="1930.1" y2="195.27"/>
<line x1="314.70" y1="322.94" x2="339.7" y2="322.94"/>
<line x1="1905.10" y1="322.94" x2="1930.1" y2="322.94"/>
<line x1="327.20" y1="450.61" x2="339.7" y2="450.61"/>
<line x1="1917.60" y1="450.61" x2="1930.1" y2="450.61"/>
<line x1="314.70" y1="578.28" x2="339.7" y2="578.28"/>
<line x1="1905.10" y1="578.28" x2="1930.1" y2="578.28"/>
<line x1="327.20" y1="705.95" x2="339.7" y2="705.95"/>
<line x1="1917.60" y1="705.95" x2="1930.1" y2="705.95"/>
<line x1="314.70" y1="833.62" x2="339.7" y2="833.62"/>
<line x1="1905.10" y1="833.62" x2="1930.1" y2="833.62"/>
<line x1="327.20" y1="961.29" x2="339.7" y2="961.29"/>
<line x1="1917.60" y1="961.29" x2="1930.1" y2="961.29"/>
<line x1="314.70" y1="1088.96" x2="339.7" y2="1088.96"/>
<line x1="1905.10" y1="1088.96" x2="1930.1" y2="1088.96"/>
<line x1="327.20" y1="1216.63" x2="339.7" y2="1216.63"/>
<line x1="1917.60" y1="1216.63" x2="1930.1" y2="1216.63"/>
<line x1="314.70" y1="1344.30" x2="339.7" y2="1344.30"/>
<line x1="339.70" y1="1344.3" x2="339.70" y2="1356.80"/>
<line x1="498.74" y1="1344.3" x2="498.74" y2="1369.30"/>
<line x1="498.74" y1="67.6" x2="498.74" y2="92.60"/>
<line x1="657.78" y1="1344.3" x2="657.78" y2="1356.80"/>
<line x1="657.78" y1="67.6" x2="657.78" y2="80.10"/>
<line x1="816.82" y1="1344.3" x2="816.82" y2="1369.30"/>
<line x1="816.82" y1="67.6" x2="816.82" y2="92.60"/>
<line x1="975.86" y1="1344.3" x2="975.86" y2="1356.80"/>
<line x1="975.86" y1="67.6" x2="975.86" y2="80.10"/>
<line x1="1134.90" y1="1344.3" x2="1134.90" y2="1369.30"/>
<line x1="1134.90" y1="67.6" x2="1134.90" y2="92.60"/>
<line x1="1293.94" y1="1344.3" x2="1293.94" y2="1356.80"/>
<line x1="1293.94" y1="67.6" x2="1293.94" y2="80.10"/>
<line x1="1452.98" y1="1344.3" x2="1452.98" y2="1369.30"/>
<line x1="1452.98" y1="67.6" x2="1452.98" y2="92.60"/>
<line x1="1612.02" y1="1344.3" x2="1612.02" y2="1356.80"/>
<line x1="1612.02" y1="67.6" x2="1612.02" y2="80.10"/>
<line x1="1771.06" y1="1344.3" x2="1771.06" y2="1369.30"/>
<line x1="1771.06" y1="67.6" x2="1771.06" y2="92.60"/>
<line x1="1930.10" y1="1344.3" x2="1930.10" y2="1356.80"/>
</g>
<text x="296.8" y="83.30" text-anchor="end" font-family="Liberation Serif, Times New Roman, serif" font-weight="bold" font-size="54.4">0.00000</text>
<text x="1957.8" y="83.30" font-family="Liberation Serif, Times New Roman, serif" font-weight="bold" font-size="54.4">0.00000</text>
<text x="296.8" y="338.64" text-anchor="end" font-family="Liberation Serif, Times New Roman, serif" font-weight="bold" font-size="54.4">0.00002</text>
<text x="1957.8" y="338.64" font-family="Liberation Serif, Times New Roman, serif" font-weight="bold" font-size="54.4">0.00012</text>
<text x="296.8" y="593.98" text-anchor="end" font-family="Liberation Serif, Times New Roman, serif" font-weight="bold" font-size="54.4">0.00004</text>
<text x="1957.8" y="593.98" font-family="Liberation Serif, Times New Roman, serif" font-weight="bold" font-size="54.4">0.00024</text>
<text x="296.8" y="849.32" text-anchor="end" font-family="Liberation Serif, Times New Roman, serif" font-weight="bold" font-size="54.4">0.00006</text>
<text x="1957.8" y="849.32" font-family="Liberation Serif, Times New Roman, serif" font-weight="bold" font-size="54.4">0.00036</text>
<text x="296.8" y="1104.66" text-anchor="end" font-family="Liberation Serif, Times New Roman, serif" font-weight="bold" font-size="54.4">0.00008</text>
<text x="1957.8" y="1104.66" font-family="Liberation Serif, Times New Roman, serif" font-weight="bold" font-size="54.4">0.00048</text>
<text x="296.8" y="1360.00" text-anchor="end" font-family="Liberation Serif, Times New Roman, serif" font-weight="bold" font-size="54.4">0.00010</text>
<text x="1957.8" y="1360.00" font-family="Liberation Serif, Times New Roman, serif" font-weight="bold" font-size="54.4">0.00060</text>
<text x="498.74" y="1428.8" text-anchor="middle" font-family="Liberation Serif, Times New Roman, serif" font-weight="bold" font-size="54.4">20</text>
<text x="816.82" y="1428.8" text-anchor="middle" font-family="Liberation Serif, Times New Roman, serif" font-weight="bold" font-size="54.4">15</text>
<text x="1134.90" y="1428.8" text-anchor="middle" font-family="Liberation Serif, Times New Roman, serif" font-weight="bold" font-size="54.4">10</text>
<text x="1452.98" y="1428.8" text-anchor="middle" font-family="Liberation Serif, Times New Roman, serif" font-weight="bold" font-size="54.4">5</text>
<text x="1771.06" y="1428.8" text-anchor="middle" font-family="Liberation Serif, Times New Roman, serif" font-weight="bold" font-size="54.4">0</text>
<text transform="translate(91.6,1229.1) rotate(-90)" font-family="Liberation Serif, Times New Roman, serif" font-weight="bold" font-size="66.4">Relative orientation accuracy φ/ω (°)</text>
<text transform="translate(2207.5,1192.2) rotate(-90)" font-family="Liberation Serif, Times New Roman, serif" font-weight="bold" font-size="66.4">Relative orientation accuracy κ (°)</text>
<text y="1528.6" font-family="Liberation Serif, serif" font-size="67"><tspan x="1016.89" textLength="33.38" lengthAdjust="spacingAndGlyphs">O</tspan><tspan x="1052.84" textLength="28.14" lengthAdjust="spacingAndGlyphs">v</tspan><tspan x="1085.80" textLength="29.75" lengthAdjust="spacingAndGlyphs">e</tspan><tspan x="1120.50" textLength="26.76" lengthAdjust="spacingAndGlyphs">r</tspan><tspan x="1157.60" textLength="22.32" lengthAdjust="spacingAndGlyphs">l</tspan><tspan x="1186.52" textLength="31.24" lengthAdjust="spacingAndGlyphs">a</tspan><tspan x="1219.74" textLength="32.16" lengthAdjust="spacingAndGlyphs">p</tspan></text>
<rect x="1424.80" y="126.00" width="28" height="28" fill="#0078BA"/>
<line x1="1377" y1="208.72" x2="1501" y2="208.72" stroke="#0078BA" stroke-width="4.5" stroke-linecap="round"/>
<circle cx="1438.80" cy="277.44" r="15.55" fill="#00A50E"/>
<line x1="1377" y1="346.16" x2="1501" y2="346.16" stroke="#00A50E" stroke-width="4.5" stroke-linecap="round"/>
<polygon points="1438.80,393.55 1420.30,425.55 1457.30,425.55" fill="#FF1010"/>
<line x1="1377" y1="483.60" x2="1501" y2="483.60" stroke="#FF1010" stroke-width="4.5" stroke-linecap="round"/>
<text x="1514.6" y="159.00" font-family="Liberation Serif, Times New Roman, serif" font-weight="bold" font-size="54.4">RO accuracy φ</text>
<text x="1514.6" y="227.72" font-family="Liberation Serif, Times New Roman, serif" font-weight="bold" font-size="54.4">RO accuracy φ</text>
<text x="1514.6" y="296.44" font-family="Liberation Serif, Times New Roman, serif" font-weight="bold" font-size="54.4">RO accuracy ω</text>
<text x="1514.6" y="365.16" font-family="Liberation Serif, Times New Roman, serif" font-weight="bold" font-size="54.4">RO accuracy ω</text>
<text x="1514.6" y="433.88" font-family="Liberation Serif, Times New Roman, serif" font-weight="bold" font-size="54.4">RO accuracy κ</text>
<text x="1514.6" y="502.60" font-family="Liberation Serif, Times New Roman, serif" font-weight="bold" font-size="54.4">RO accuracy κ</text>
</svg></body></html>
